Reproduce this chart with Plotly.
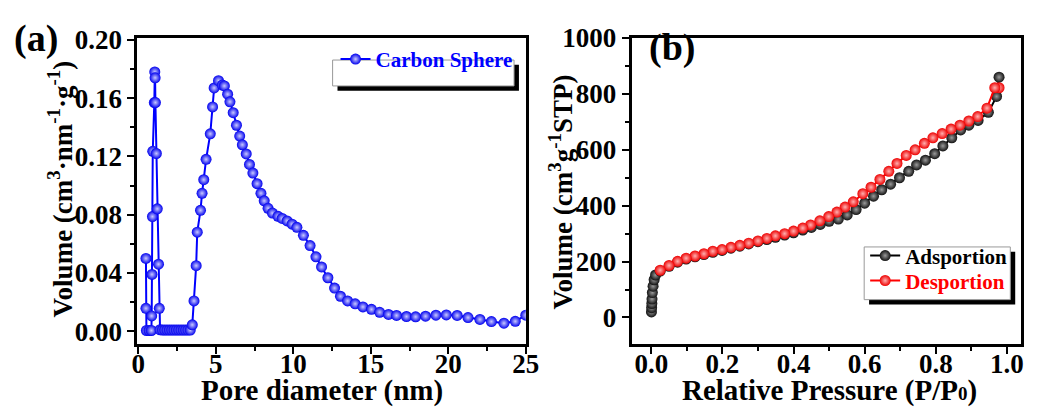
import plotly.graph_objects as go

# ---------------- data: panel (a) pore size distribution ----------------
pore_d = [0.49, 0.49, 0.52, 0.70, 0.84, 0.86, 0.88, 0.91, 0.93, 1.03, 1.06, 1.08, 1.10,
          1.16, 1.22, 1.30, 1.35, 1.40, 1.55, 1.70, 1.85, 2.00, 2.15, 2.30, 2.45, 2.60,
          2.75, 2.90, 3.05, 3.20, 3.35, 3.48, 3.59, 3.73, 3.80, 4.01, 4.11, 4.22, 4.37,
          4.64, 4.79, 4.89, 5.17, 5.42, 5.55, 5.76, 5.91, 6.12, 6.33, 6.54, 6.71, 6.96,
          7.17, 7.39, 7.66, 7.91, 8.12, 8.37, 8.65, 9.01, 9.28, 9.60, 9.92, 10.23, 10.65,
          11.08, 11.46, 11.82, 12.23, 12.66, 13.04, 13.50, 13.99, 14.49, 15.04, 15.57,
          16.14, 16.66, 17.30, 17.89, 18.53, 19.20, 19.87, 20.57, 21.27, 22.04, 22.78,
          23.59, 24.32, 25.00]
pore_v = [0.050, 0.0157, 0.0005, 0.0005, 0.0005, 0.0105, 0.039, 0.0787, 0.1235, 0.157,
          0.178, 0.174, 0.157, 0.122, 0.084, 0.046, 0.0157, 0.001, 0.0008, 0.0008, 0.0008,
          0.0008, 0.0008, 0.0008, 0.0008, 0.0008, 0.0008, 0.0008, 0.0008, 0.0008, 0.0008,
          0.0044, 0.0208, 0.045, 0.068, 0.083, 0.0947, 0.104, 0.118, 0.1355, 0.154, 0.167,
          0.172, 0.169, 0.1684, 0.1627, 0.1575, 0.150, 0.1414, 0.134, 0.128, 0.1217,
          0.1145, 0.1086, 0.1013, 0.0947, 0.0895, 0.0844, 0.0811, 0.0789, 0.0774, 0.0757,
          0.0735, 0.0713, 0.0658, 0.0588, 0.0511, 0.0441, 0.0367, 0.0296, 0.024, 0.0208,
          0.0188, 0.0167, 0.0150, 0.0130, 0.0115, 0.0108, 0.0101, 0.0099, 0.0103, 0.0110,
          0.0112, 0.0108, 0.0094, 0.0081, 0.0066, 0.0055, 0.0068, 0.0110]

# ---------------- data: panel (b) N2 isotherm ----------------
ads_p = [0.0005, 0.001, 0.0015, 0.002, 0.003, 0.005, 0.008, 0.012, 0.025, 0.05, 0.074,
         0.098, 0.123, 0.148, 0.173, 0.199, 0.224, 0.249, 0.274, 0.30, 0.325, 0.349, 0.375,
         0.40, 0.426, 0.45, 0.475, 0.50, 0.526, 0.551, 0.576, 0.60, 0.625, 0.648, 0.673,
         0.698, 0.724, 0.746, 0.771, 0.797, 0.82, 0.845, 0.87, 0.893, 0.919, 0.948, 0.971,
         0.978]
ads_v = [20, 35, 50, 66, 89, 112, 135, 152, 166, 183, 198, 209, 217, 225, 233, 240, 248,
         255, 263, 271, 279, 287, 295, 303, 313, 322, 333, 344, 352, 367, 386, 409, 434,
         457, 477, 500, 523, 546, 563, 586, 614, 643, 671, 688, 705, 734, 791, 860]

des_p = [0.978, 0.966, 0.944, 0.918, 0.893, 0.868, 0.843, 0.818, 0.792, 0.768, 0.742,
         0.717, 0.691, 0.668, 0.643, 0.618, 0.595, 0.568, 0.545, 0.522, 0.499, 0.474,
         0.448, 0.426, 0.40, 0.375, 0.349, 0.325, 0.30, 0.274, 0.249, 0.224, 0.199, 0.173,
         0.148, 0.123, 0.098, 0.074, 0.05, 0.025]
des_v = [822, 822, 749, 719, 703, 688, 674, 658, 643, 623, 600, 580, 551, 523, 494, 466,
         443, 414, 395, 377, 361, 346, 331, 320, 309, 300, 292, 283, 274, 266, 258, 251,
         243, 237, 228, 220, 212, 201, 186, 169]

W, H = 1040, 409
FONT = "Liberation Serif"


def px_x(p):
    return p / W


def px_y(p):
    return 1 - p / H


fig = go.Figure()

fig.add_trace(go.Scatter(
    x=pore_d, y=pore_v, mode="lines+markers", name="Carbon Sphere",
    line=dict(color="#0000ff", width=2),
    marker=dict(size=11, color="#0000ee", line=dict(width=0),
                gradient=dict(type="radial", color="#c8c8ff")),
    xaxis="x", yaxis="y", legend="legend"))

fig.add_trace(go.Scatter(
    x=ads_p, y=ads_v, mode="lines+markers", name="Adsportion",
    line=dict(color="#000000", width=2),
    marker=dict(size=11, color="#111111", line=dict(width=0),
                gradient=dict(type="radial", color="#9a9a9a")),
    xaxis="x2", yaxis="y2", legend="legend2"))

fig.add_trace(go.Scatter(
    x=des_p, y=des_v, mode="lines+markers", name="Desportion",
    line=dict(color="#ff0000", width=2),
    marker=dict(size=11, color="#ee0000", line=dict(width=0),
                gradient=dict(type="radial", color="#ffb0b0")),
    xaxis="x2", yaxis="y2", legend="legend3"))

tickfont = dict(family=FONT, size=27, color="black", weight="bold")
axis_common = dict(showline=True, mirror=True, linewidth=3, linecolor="black",
                   ticks="outside", ticklen=7, tickwidth=2, tickcolor="black",
                   showgrid=False, zeroline=False, tickfont=tickfont)
minor_common = dict(ticklen=4, tickwidth=2, ticks="outside", tickcolor="black")


def leg(x, y, color):
    return dict(x=px_x(x), y=px_y(y), xanchor="left", yanchor="top",
                bgcolor="rgba(0,0,0,0)", borderwidth=0, itemwidth=30, tracegroupgap=0,
                font=dict(family=FONT, size=21, color=color, weight="bold"))


fig.update_layout(
    width=W, height=H, margin=dict(l=0, r=0, t=0, b=0),
    paper_bgcolor="white", plot_bgcolor="white", showlegend=True,
    xaxis=dict(domain=[px_x(134), px_x(530)], range=[-0.06, 25.0], dtick=5, tick0=0,
               minor=dict(dtick=2.5, **minor_common), ticklabelstandoff=-13,
               anchor="y", **axis_common),
    yaxis=dict(domain=[px_y(343), px_y(24)], range=[-0.0086, 0.2013], dtick=0.04, tick0=0,
               tickformat=".2f", minor=dict(dtick=0.02, **minor_common),
               anchor="x", **axis_common),
    xaxis2=dict(domain=[px_x(638), px_x(1035)], range=[-0.055, 1.04], dtick=0.2, tick0=0,
                tickformat=".1f", minor=dict(dtick=0.1, **minor_common), ticklabelstandoff=-13,
                anchor="y2", **axis_common),
    yaxis2=dict(domain=[px_y(343), px_y(24)], range=[-94, 1000], dtick=200, tick0=0,
                minor=dict(dtick=100, **minor_common),
                anchor="x2", **axis_common),
    legend=leg(336, 25, "#0000ff"),
    legend2=leg(876, 230, "black"),
    legend3=leg(876, 256, "#ff0000"),
)

# legend boxes with drop shadows
for (x0, y0, x1, y1) in [(333, 47, 518, 74), (875, 242, 1024, 297)]:
    fig.add_shape(type="rect", xref="paper", yref="paper",
                  x0=px_x(x0 + 5), x1=px_x(x1 + 5), y0=px_y(y1 + 5), y1=px_y(y0 + 5),
                  fillcolor="black", line=dict(width=0), layer="above")
    fig.add_shape(type="rect", xref="paper", yref="paper",
                  x0=px_x(x0), x1=px_x(x1), y0=px_y(y1), y1=px_y(y0),
                  fillcolor="white", line=dict(color="#999999", width=1), layer="above")

title_font = dict(family=FONT, size=29, color="black", weight="bold")
ytitle_font = dict(family=FONT, size=27, color="black", weight="bold")
annotations = [
    dict(text="(a)", x=px_x(31), y=px_y(25), font=dict(family=FONT, size=38, color="black", weight="bold")),
    dict(text="(b)", x=px_x(679), y=px_y(34), font=dict(family=FONT, size=38, color="black", weight="bold")),
    dict(text="Pore diameter (nm)", x=px_x(322), y=px_y(392), font=title_font),
    dict(text="Relative Pressure (P/P<span style='font-size:19px'>0</span>)",
         x=px_x(840), y=px_y(392), font=title_font),
    dict(text="Volume (cm<sup>3</sup>·nm<sup>-1</sup>·g<sup>-1</sup>)", x=px_x(56), y=px_y(181),
         textangle=-90, font=ytitle_font),
    dict(text="Volume (cm<sup>3</sup>g<sup>-1</sup>STP)", x=px_x(566), y=px_y(185),
         textangle=-90, font=ytitle_font),
]
for a in annotations:
    fig.add_annotation(xref="paper", yref="paper", showarrow=False,
                       xanchor="center", yanchor="middle", **a)

fig.write_html("out.html")
